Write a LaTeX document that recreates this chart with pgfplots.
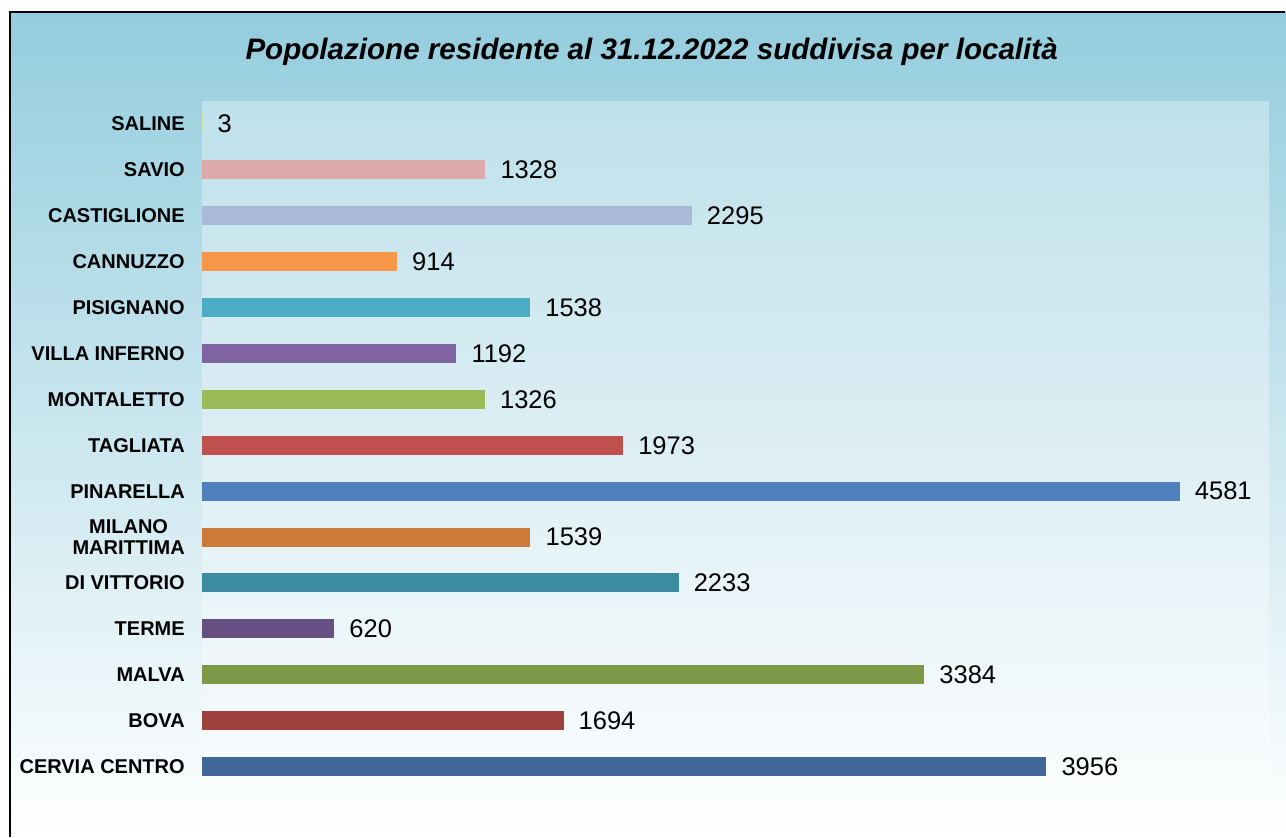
\documentclass[border=0pt]{standalone}
\usepackage{pgfplots}
\pgfplotsset{compat=1.18}
\usepackage{fontspec}
\setmainfont{Liberation Sans}
\definecolor{bgtop}{RGB}{148,205,222}
\definecolor{cA}{RGB}{215,228,178}
\definecolor{cB}{RGB}{221,169,169}
\definecolor{cC}{RGB}{169,185,216}
\definecolor{cD}{RGB}{247,150,70}
\definecolor{cE}{RGB}{75,172,198}
\definecolor{cF}{RGB}{128,100,162}
\definecolor{cG}{RGB}{155,187,89}
\definecolor{cH}{RGB}{192,80,77}
\definecolor{cI}{RGB}{79,129,189}
\definecolor{cJ}{RGB}{204,122,58}
\definecolor{cK}{RGB}{60,139,160}
\definecolor{cL}{RGB}{102,79,131}
\definecolor{cM}{RGB}{125,153,72}
\definecolor{cN}{RGB}{158,64,62}
\definecolor{cO}{RGB}{64,105,153}
\begin{document}
\begin{tikzpicture}
\path (0pt,0pt) rectangle (1286pt,837pt);
\shade[top color=bgtop, bottom color=white] (10pt,0pt) rectangle (1286pt,825pt);
\draw[line width=1.5pt] (10pt,0pt) -- (10pt,825pt) -- (1286pt,825pt);
\node[font=\fontsize{29.6}{34}\selectfont\bfseries\itshape] at (652pt,785pt) {Popolazione residente al 31.12.2022 suddivisa per località};
\begin{axis}[
  at={(202pt,47pt)}, anchor=south west,
  scale only axis, width=1068pt, height=689pt,
  xmin=0, xmax=5000, ymin=0.5, ymax=15.5,
  y dir=reverse,
  axis line style={draw=none},
  axis background/.style={fill=white, fill opacity=0.33},
  xtick=\empty,
  ytick={1,...,15},
  yticklabels={SALINE,SAVIO,CASTIGLIONE,CANNUZZO,PISIGNANO,VILLA INFERNO,MONTALETTO,TAGLIATA,PINARELLA,{MILANO\\MARITTIMA},DI VITTORIO,TERME,MALVA,BOVA,CERVIA CENTRO},
  yticklabel style={font=\fontsize{20}{21.5}\selectfont\bfseries, align=center, anchor=east, inner sep=0pt, xshift=-17pt},
  major tick length=0pt,
  xbar, bar width=19pt, bar shift=0pt,
  nodes near coords,
  nodes near coords style={font=\fontsize{25.5}{28}\selectfont, anchor=west, inner sep=0pt, xshift=15pt, text=black,
    /pgf/number format/1000 sep={}, /pgf/number format/assume math mode=true},
  every axis plot/.append style={draw=none},
  clip=false,
]
\addplot[fill=cA] coordinates {(3,1)};
\addplot[fill=cB] coordinates {(1328,2)};
\addplot[fill=cC] coordinates {(2295,3)};
\addplot[fill=cD] coordinates {(914,4)};
\addplot[fill=cE] coordinates {(1538,5)};
\addplot[fill=cF] coordinates {(1192,6)};
\addplot[fill=cG] coordinates {(1326,7)};
\addplot[fill=cH] coordinates {(1973,8)};
\addplot[fill=cI] coordinates {(4581,9)};
\addplot[fill=cJ] coordinates {(1539,10)};
\addplot[fill=cK] coordinates {(2233,11)};
\addplot[fill=cL] coordinates {(620,12)};
\addplot[fill=cM] coordinates {(3384,13)};
\addplot[fill=cN] coordinates {(1694,14)};
\addplot[fill=cO] coordinates {(3956,15)};
\end{axis}
\end{tikzpicture}
\end{document}
